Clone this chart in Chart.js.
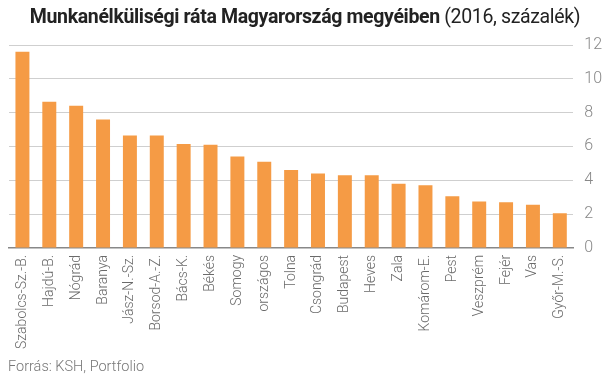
<!DOCTYPE html>
<html>
<head>
<meta charset="utf-8">
<script src="https://cdn.jsdelivr.net/npm/chart.js@4"></script>
<style>
  body { margin: 0; background: #fff; }
  #wrap { position: relative; width: 605px; height: 378px; }
  #title { position: absolute; top: 5px; left: 0; width: 610px; text-align: center;
    font-family: Roboto, sans-serif; font-size: 19.5px; color: #222; letter-spacing: -0.35px; }
  #title b { font-weight: 700; }
  #source { position: absolute; left: 8px; top: 358px; font-family: Roboto, sans-serif;
    font-size: 14.5px; color: #777; font-weight: 300; }
</style>
</head>
<body>
<div id="wrap">
  <canvas id="myChart" width="605" height="378"></canvas>
  <div id="title"><b>Munkanélküliségi ráta Magyarország megyéiben</b> (2016, százalék)</div>
  <div id="source">Forrás: KSH, Portfolio</div>
</div>
<script>
let counties = ["Szabolcs-Sz.-B.", "Hajdú-B.", "Nógrád", "Baranya", "Jász-N.-Sz.", "Borsod-A.-Z.",
  "Bács-K.", "Békés", "Somogy", "országos", "Tolna", "Csongrád", "Budapest", "Heves", "Zala",
  "Komárom-E.", "Pest", "Veszprém", "Fejér", "Vas", "Győr-M.-S."];
let rate = [11.6, 8.65, 8.4, 7.6, 6.65, 6.65, 6.15, 6.1, 5.4, 5.1, 4.6, 4.4, 4.3, 4.3, 3.8,
  3.7, 3.05, 2.75, 2.7, 2.55, 2.05];

let canvas = document.getElementById("myChart");
let ctx = canvas.getContext("2d");
let chart = new Chart(ctx, {
  type: "bar",
  data: {
    labels: counties,
    datasets: [
      {
        data: rate,
        backgroundColor: "#f59b45",
        barPercentage: 0.52,
        categoryPercentage: 1,
      },
    ],
  },
  options: {
    responsive: false,
    animation: false,
    layout: { padding: { top: 45, bottom: 22, left: 9, right: -8 } },
    plugins: { legend: { display: false }, tooltip: { enabled: false } },
    scales: {
      x: {
        grid: { display: false, drawTicks: false },
        border: { color: "#888", width: 1.5 },
        ticks: {
          color: "#6a6a6a",
          font: { family: "Roboto", size: 14, weight: 300 },
          minRotation: 90,
          maxRotation: 90,
          autoSkip: false,
          padding: 7,
        },
      },
      y: {
        position: "right",
        min: 0,
        max: 12,
        ticks: {
          stepSize: 2,
          color: "#888",
          font: { family: "Roboto", size: 16, weight: 300 },
          padding: 11,
        },
        grid: { color: "#cfcfcf", lineWidth: 1, drawTicks: false },
        border: { display: false },
      },
    },
  },
});
</script>
</body>
</html>
